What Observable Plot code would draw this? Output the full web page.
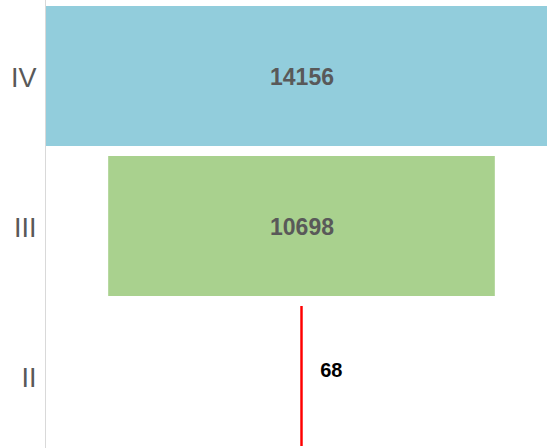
<!DOCTYPE html>
<html>
<head>
<meta charset="utf-8">
<script src="https://cdn.jsdelivr.net/npm/d3@7"></script>
<script src="https://cdn.jsdelivr.net/npm/@observablehq/plot@0.6"></script>
<style>
  html, body { margin: 0; padding: 0; background: #fff; overflow: hidden; }
  #chart svg { display: block; }
</style>
</head>
<body>
<div id="chart"></div>
<script>
const stages = ["IV", "III", "II"];
const values = [14156, 10698, 68];
const colors = ["#92CDDC", "#A9D18E", "#FF0000"];

const data = stages.map((s, i) => ({stage: s, value: values[i]}));
const maxHalf = d3.max(values) / 2;

const chart = Plot.plot({
  width: 547,
  height: 448,
  marginTop: 0,
  marginBottom: 0,
  marginRight: 0,
  marginLeft: 45,
  style: {fontFamily: "'Liberation Sans', Arial, sans-serif", color: "#595959", background: "#fff"},
  x: {domain: [-maxHalf, maxHalf], range: [45.7, 557.3], axis: null},
  y: {domain: stages, range: [1, 451], paddingInner: 10 / 150, paddingOuter: 5 / 150, tickSize: 0, tickPadding: 9, label: null},
  color: {domain: stages, range: colors},
  marks: [
    Plot.barX(data, {y: "stage", x1: d => -d.value / 2, x2: d => d.value / 2, fill: "stage", clip: true}),
    Plot.frame({anchor: "left", stroke: "#D9D9D9"}),
    Plot.text(data.filter(d => d.value > 1000), {
      y: "stage", x: d => (d.value / 2 - d.value / 2), text: d => String(d.value),
      fill: "#595959", fontWeight: "bold", fontSize: 23, dy: 1
    }),
    Plot.text(data.filter(d => d.value <= 1000), {
      y: "stage", x: d => d.value / 2, text: d => String(d.value),
      fill: "#000", fontWeight: "bold", fontSize: 20, textAnchor: "start", dx: 17, dy: -6
    })
  ]
});
chart.querySelectorAll("g[aria-label='y-axis'] text, g[aria-label='y-axis tick label'] text").forEach(t => {
  t.setAttribute("font-size", 27);
  t.setAttribute("transform", (t.getAttribute("transform") || "") + " translate(0,2)");
});
document.getElementById("chart").appendChild(chart);
</script>
</body>
</html>
